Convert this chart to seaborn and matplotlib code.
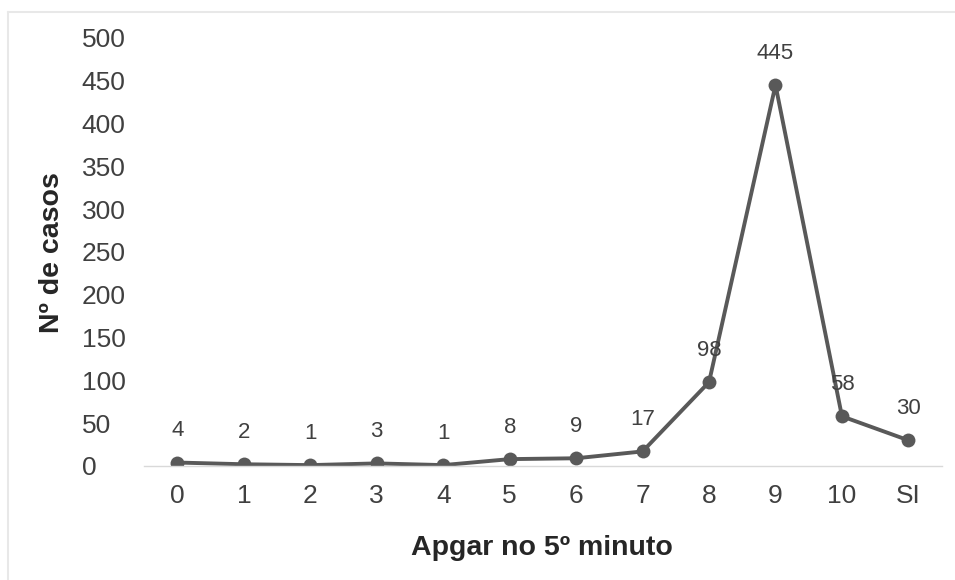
import matplotlib
matplotlib.use("Agg")
import matplotlib.pyplot as plt
import seaborn as sns
import pandas as pd
from matplotlib.lines import Line2D

categories = ["0", "1", "2", "3", "4", "5", "6", "7", "8", "9", "10", "SI"]
values = [4, 2, 1, 3, 1, 8, 9, 17, 98, 445, 58, 30]
yticks = [0, 50, 100, 150, 200, 250, 300, 350, 400, 450, 500]

sns.set_theme(style="white")
plt.rcParams['font.family'] = ['Liberation Sans', 'DejaVu Sans']

df = pd.DataFrame({"x": range(len(categories)), "y": values})

fig = plt.figure(figsize=(9.55, 5.8), dpi=100)
ax = fig.add_axes([0.151, 0.1966, 0.835, 0.7379])

sns.lineplot(data=df, x="x", y="y", ax=ax, color="#595959", linewidth=2.8,
             marker="o", markersize=10, markeredgewidth=0, markerfacecolor="#595959")

for xi, v in zip(df["x"], df["y"]):
    ax.annotate(str(v), (xi, v), xytext=(0, 23), textcoords="offset points",
                ha="center", va="center", fontsize=16, color="#404040")

ax.set_xlim(-0.5, len(categories) - 0.5)
ax.set_ylim(0, 500)
ax.set_xticks(range(len(categories)))
ax.set_xticklabels(categories)
ax.set_yticks(yticks)
ax.tick_params(axis="x", labelsize=19, colors="#404040", length=0, pad=13)
ax.tick_params(axis="y", labelsize=19, colors="#404040", length=0, pad=45)
for lbl in ax.get_yticklabels():
    lbl.set_horizontalalignment("left")
for s in ["top", "right", "left"]:
    ax.spines[s].set_visible(False)
ax.spines["bottom"].set_color("#d9d9d9")
ax.spines["bottom"].set_linewidth(1)
ax.set_xlabel("Apgar no 5º minuto", fontsize=20.5, fontweight="bold", color="#262626")
ax.set_ylabel("Nº de casos", fontsize=20.5, fontweight="bold", color="#262626")
ax.xaxis.set_label_coords((542 - 144) / 798, -(548 - 466) / 428)
ax.xaxis.label.set_verticalalignment("center")
ax.yaxis.set_label_coords(-(144 - 52) / 798, (466 - 253) / 428)
ax.yaxis.label.set_verticalalignment("center")

fig.add_artist(Line2D([8 / 955, 1], [1 - 12 / 580, 1 - 12 / 580], transform=fig.transFigure,
                      color="#e8e8e8", linewidth=1.5))
fig.add_artist(Line2D([8 / 955, 8 / 955], [0, 1 - 12 / 580], transform=fig.transFigure,
                      color="#e8e8e8", linewidth=1.5))

fig.savefig("out.png", dpi=100)
